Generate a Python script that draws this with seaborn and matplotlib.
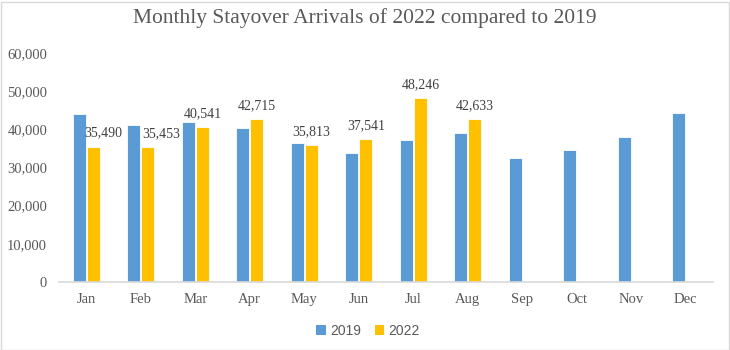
import matplotlib
matplotlib.use("Agg")
import matplotlib.pyplot as plt
from matplotlib.patches import Patch, Rectangle
from matplotlib.ticker import FuncFormatter
import numpy as np
import pandas as pd
import seaborn as sns

months = ["Jan", "Feb", "Mar", "Apr", "May", "Jun", "Jul", "Aug", "Sep", "Oct", "Nov", "Dec"]
arrivals_2019 = [44100, 41100, 41900, 40300, 36400, 33900, 37300, 39000, 32500, 34600, 38100, 44400]
arrivals_2022 = [35490, 35453, 40541, 42715, 35813, 37541, 48246, 42633, np.nan, np.nan, np.nan, np.nan]
years = ["2019", "2022"]
colors = {"2019": "#5B9BD5", "2022": "#FFC000"}
title = "Monthly Stayover Arrivals of 2022 compared to 2019"

df = pd.concat([
    pd.DataFrame({"month": months, "year": "2019", "value": arrivals_2019}),
    pd.DataFrame({"month": months, "year": "2022", "value": arrivals_2022}),
]).dropna()

sns.set_theme(style="white")
plt.rcParams["font.family"] = ["Liberation Serif", "DejaVu Serif"]

fig = plt.figure(figsize=(7.3, 3.5), dpi=100)
ax = fig.add_axes([59 / 730, (350 - 282) / 350, (713 - 59) / 730, (282 - 53) / 350])

sns.barplot(data=df, x="month", y="value", hue="year", order=months, hue_order=years,
            palette=colors, saturation=1, width=0.52, gap=0.1, ax=ax, legend=False,
            edgecolor="white", linewidth=0.6)

ax.set_ylim(0, 60000)
ax.set_xlim(-0.5, 11.5)
ax.set_yticks(range(0, 60001, 10000))
ax.yaxis.set_major_formatter(FuncFormatter(lambda v, p: f"{int(v):,}"))
ax.set_xlabel("")
ax.set_ylabel("")
ax.tick_params(axis="both", colors="#595959", labelsize=10.5, length=0)
ax.tick_params(axis="x", pad=8)
ax.tick_params(axis="y", pad=8.5)
for s in ["top", "right", "left"]:
    ax.spines[s].set_visible(False)
ax.spines["bottom"].set_color("#D9D9D9")
ax.spines["bottom"].set_linewidth(1.2)
ax.grid(False)

# data labels for 2022
label_dx = {0: 7, 1: 9.5}
for i, bar in enumerate(ax.containers[1]):
    h = bar.get_height()
    if np.isnan(h):
        continue
    ax.annotate(f"{int(round(h)):,}", (bar.get_x() + bar.get_width() / 2, h),
                xytext=(label_dx.get(i, 0), 5), textcoords="offset points",
                ha="center", va="bottom", fontsize=10, color="#404040")

fig.text(0.5, 1 - 18 / 350, title, ha="center", va="center", fontsize=15.5, color="#595959")

handles = [Patch(facecolor=colors[y], edgecolor="none", label=y) for y in years]
leg = fig.legend(handles=handles, loc="center", bbox_to_anchor=(368 / 730, 1 - 331 / 350),
                 ncol=2, frameon=False, handlelength=0.7, handleheight=0.7,
                 handletextpad=0.3, columnspacing=1.0,
                 prop={"family": "Liberation Sans", "size": 10})
for t in leg.get_texts():
    t.set_color("#595959")

fig.patches.append(Rectangle((0.5 / 730, 0.5 / 350), 1 - 2 / 730, 1 - 2 / 350, transform=fig.transFigure,
                             fill=False, edgecolor="#D9D9D9", linewidth=1))

fig.savefig("out.png", dpi=100)
